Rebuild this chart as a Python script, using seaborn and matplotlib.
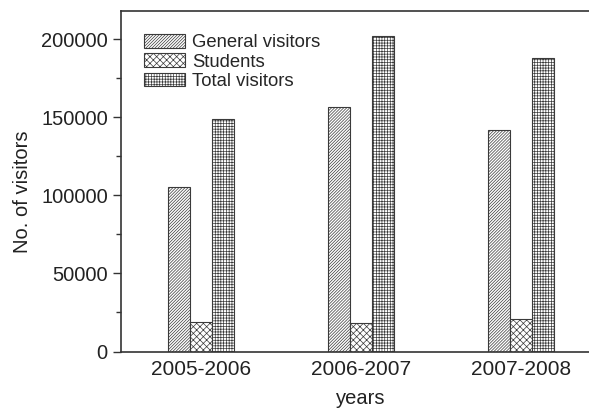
import seaborn as sns
import matplotlib.pyplot as plt
import matplotlib.ticker as mticker
import pandas as pd

# values
years = ["2005-2006", "2006-2007", "2007-2008"]
general = [105000, 156500, 141500]
students = [19000, 18000, 20500]
total = [148800, 202000, 187700]
series = ["General visitors", "Students", "Total visitors"]

df = pd.DataFrame({
    "years": years * 3,
    "visitors": general + students + total,
    "type": [s for s in series for _ in years],
})

sns.set_style("ticks")
plt.rcParams["font.family"] = ["Liberation Sans", "DejaVu Sans"]
plt.rcParams["hatch.linewidth"] = 0.5

fig = plt.figure(figsize=(5.89, 4.09), dpi=100)
ax = fig.add_axes([121 / 589, 1 - 351.5 / 409, (601 - 121) / 589, (351.5 - 11) / 409])

sns.barplot(data=df, x="years", y="visitors", hue="type", hue_order=series,
            palette=["white"] * 3, edgecolor="#3a3a3a", linewidth=0.8,
            width=0.41, saturation=1, ax=ax)

# hatch patterns per series (dense, like the original)
hatches = ["/" * 11, "x" * 5, "+" * 6]
for cont, h in zip(ax.containers, hatches):
    for bar in cont:
        bar.set_hatch(h)

ax.set_xlim(-0.5, 2.5)
ax.set_ylim(0, 218000)
ax.yaxis.set_major_locator(mticker.MultipleLocator(50000))
ax.yaxis.set_minor_locator(mticker.MultipleLocator(25000))
ax.tick_params(axis="y", which="major", length=6, width=1, labelsize=14.5,
               colors="#333333", labelcolor="#222222")
ax.tick_params(axis="y", which="minor", length=3.5, width=1, colors="#333333")
ax.tick_params(axis="x", length=0, labelsize=15, labelcolor="#222222", pad=6)

for side in ["left", "bottom", "top"]:
    ax.spines[side].set_visible(True)
    ax.spines[side].set_color("#333333")
    ax.spines[side].set_linewidth(1.2)

ax.set_xlabel("years", fontsize=14.5, color="#222222", labelpad=7)
ax.set_ylabel("No. of visitors", fontsize=14.5, color="#222222")
ax.yaxis.set_label_coords(-0.185, 0.468)

ax.legend(ax.containers, series, loc="upper left", bbox_to_anchor=(0.025, 0.965),
          frameon=False, fontsize=13.3, handlelength=2.2, handleheight=0.75,
          labelspacing=0.12, handletextpad=0.4, borderaxespad=0.2)

fig.savefig("out.png", dpi=100)
